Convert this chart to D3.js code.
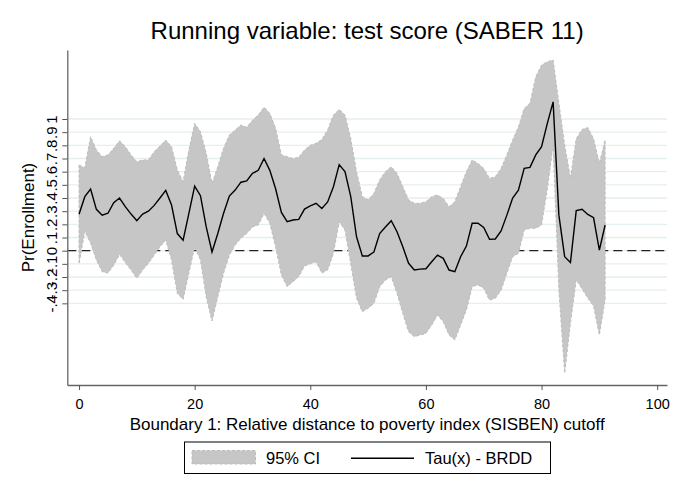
<!DOCTYPE html>
<html>
<head>
  <meta charset="utf-8">
  <style>
    body { margin: 0; background: #fff; }
    svg { display: block; font-family: "Liberation Sans", Arial, Helvetica, sans-serif; }
  </style>
</head>
<body>
<script src="https://d3js.org/d3.v7.min.js"></script>
<script>

// distance to cutoff (one point per unit)
var xs = d3.range(0, 92);

// Tau(x) - BRDD
var tau = [0.276, 0.41, 0.468, 0.314, 0.27, 0.284, 0.365, 0.40, 0.334, 0.278,
           0.228, 0.278, 0.30, 0.344, 0.40, 0.458, 0.347, 0.13, 0.08, 0.284,
           0.49, 0.418, 0.18, -0.01, 0.13, 0.284, 0.415, 0.46, 0.52, 0.53,
           0.587, 0.61, 0.70, 0.61, 0.47, 0.29, 0.22, 0.233, 0.238, 0.316,
           0.34, 0.36, 0.32, 0.37, 0.486, 0.653, 0.60, 0.41, 0.106, -0.04,
           -0.04, -0.01, 0.13, 0.18, 0.228, 0.144, 0.03, -0.096, -0.147, -0.14,
           -0.137, -0.084, -0.033, -0.058, -0.147, -0.16, -0.046, 0.035, 0.208, 0.208,
           0.177, 0.086, 0.089, 0.15, 0.27, 0.40, 0.46, 0.625, 0.633, 0.727,
           0.79, 0.967, 1.13, 0.27, -0.046, -0.09, 0.304, 0.314, 0.275, 0.25,
           0.005, 0.195];

// 95% CI upper bound
var ciUpper = [0.65, 0.63, 0.866, 0.765, 0.714, 0.727, 0.777, 0.835, 0.79, 0.727,
               0.676, 0.689, 0.689, 0.752, 0.795, 0.84, 0.79, 0.613, 0.524, 0.765,
               0.967, 0.904, 0.74, 0.511, 0.638, 0.777, 0.878, 0.916, 0.954, 0.937,
               0.99, 1.03, 1.09, 1.043, 0.929, 0.727, 0.714, 0.70, 0.709, 0.765,
               0.80, 0.815, 0.845, 0.916, 1.03, 1.073, 1.03, 0.85, 0.60, 0.41,
               0.385, 0.435, 0.537, 0.60, 0.638, 0.587, 0.486, 0.385, 0.36, 0.36,
               0.372, 0.41, 0.423, 0.397, 0.334, 0.372, 0.486, 0.60, 0.689, 0.663,
               0.625, 0.549, 0.562, 0.625, 0.727, 0.84, 0.94, 1.08, 1.12, 1.32,
               1.41, 1.435, 1.448, 1.12, 0.80, 0.55, 0.85, 0.92, 0.935, 0.85,
               0.663, 0.84];

// 95% CI lower bound
var ciLower = [-0.1, 0.15, 0.056, -0.07, -0.16, -0.17, -0.11, -0.028, -0.09, -0.147,
               -0.21, -0.147, -0.096, -0.033, 0.03, 0.08, -0.07, -0.324, -0.37, -0.17,
               0.03, -0.07, -0.35, -0.534, -0.35, -0.17, -0.033, 0.043, 0.094, 0.13,
               0.18, 0.195, 0.284, 0.208, 0.03, -0.185, -0.273, -0.235, -0.197, -0.116,
               -0.10, -0.084, -0.17, -0.147, -0.02, 0.22, 0.157, -0.1, -0.36, -0.463,
               -0.438, -0.40, -0.273, -0.223, -0.197, -0.324, -0.476, -0.615, -0.653, -0.64,
               -0.628, -0.565, -0.489, -0.539, -0.64, -0.678, -0.565, -0.45, -0.273, -0.26,
               -0.286, -0.375, -0.362, -0.30, -0.17, -0.046, -0.02, 0.157, 0.17, 0.17,
               0.195, 0.47, 0.80, -0.3, -0.93, -0.55, -0.22, -0.29, -0.36, -0.42,
               -0.64, -0.37];

var xTicks = [0, 20, 40, 60, 80, 100];
var yTicks = [-0.4, -0.3, -0.2, -0.1, 0, 0.1, 0.2, 0.3, 0.4, 0.5, 0.6, 0.7, 0.8, 0.9, 1];
var yTickLabels = ["-.4", "-.3", "-.2", "-.1", "0", ".1", ".2", ".3", ".4", ".5", ".6", ".7", ".8", ".9", "1"];

var width = 685, height = 498;
var plotL = 67.3, plotR = 667, plotT = 50, plotB = 385;

var data = xs.map(function(d, i) {
  return {x: d, tau: tau[i], lo: ciLower[i], hi: ciUpper[i]};
});

var svg = d3.select("body").append("svg")
    .attr("width", width)
    .attr("height", height);

var x = d3.scaleLinear().domain([-2.03, 101.7]).range([plotL, plotR]);
var y = d3.scaleLinear().domain([-1.02, 1.524]).range([plotB, plotT]);

// gridlines
svg.append("g").selectAll("line")
  .data(yTicks)
  .enter().append("line")
    .attr("x1", plotL).attr("x2", plotR)
    .attr("y1", function(d) { return y(d); })
    .attr("y2", function(d) { return y(d); })
    .attr("stroke", "#e5eef0")
    .attr("stroke-width", 1.3);

// zero reference line (sits under the band)
svg.append("line")
    .attr("x1", plotL).attr("x2", plotR)
    .attr("y1", y(0)).attr("y2", y(0))
    .attr("stroke", "#222")
    .attr("stroke-width", 1.3)
    .attr("stroke-dasharray", "9,5");

var area = d3.area()
    .x(function(d) { return x(d.x); })
    .y0(function(d) { return y(d.lo); })
    .y1(function(d) { return y(d.hi); });

svg.append("path")
    .attr("d", area(data))
    .attr("fill", "#c6c6c6")
    .attr("stroke", "#bcbcbc")
    .attr("stroke-width", 1)
    .attr("stroke-dasharray", "3,2");

var line = d3.line()
    .x(function(d) { return x(d.x); })
    .y(function(d) { return y(d.tau); });

svg.append("path")
    .attr("d", line(data))
    .attr("fill", "none")
    .attr("stroke", "#000")
    .attr("stroke-width", 1.4);

// x axis
var xAxis = svg.append("g")
    .attr("transform", "translate(0," + plotB + ")")
    .call(d3.axisBottom(x).tickValues(xTicks).tickSize(5).tickPadding(9).tickSizeOuter(0));
xAxis.select(".domain").attr("stroke", "#666").attr("stroke-width", 1.3);
xAxis.selectAll(".tick line").attr("stroke", "#555");
xAxis.selectAll(".tick text")
    .attr("font-size", 14.5)
    .attr("font-family", "Liberation Sans, Arial, sans-serif")
    .attr("fill", "#000");

// y axis
var yAxis = svg.append("g")
    .attr("transform", "translate(" + plotL + ",0)")
    .call(d3.axisLeft(y).tickValues(yTicks)
      .tickFormat(function(d, i) { return yTickLabels[i]; })
      .tickSize(5).tickSizeOuter(0));
yAxis.select(".domain").attr("stroke", "#666").attr("stroke-width", 1.3);
yAxis.selectAll(".tick line").attr("stroke", "#555");
yAxis.selectAll(".tick text")
    .attr("font-size", 15)
    .attr("font-family", "Liberation Sans, Arial, sans-serif")
    .attr("fill", "#000")
    .attr("x", 0).attr("dy", 0)
    .attr("text-anchor", "middle")
    .attr("transform", "translate(-10,0) rotate(-90)");

// title and axis titles
svg.append("text")
    .attr("x", (plotL + plotR) / 2).attr("y", 39)
    .attr("text-anchor", "middle")
    .attr("font-size", 24)
    .text("Running variable: test score (SABER 11)");

svg.append("text")
    .attr("x", (plotL + plotR) / 2).attr("y", 430)
    .attr("text-anchor", "middle")
    .attr("font-size", 17)
    .text("Boundary 1: Relative distance to poverty index (SISBEN) cutoff");

svg.append("text")
    .attr("transform", "translate(34," + (plotT + plotB) / 2 + ") rotate(-90)")
    .attr("text-anchor", "middle")
    .attr("font-size", 17)
    .text("Pr(Enrollment)");

// legend
var lg = svg.append("g");
lg.append("rect")
    .attr("x", 184.5).attr("y", 442)
    .attr("width", 366).attr("height", 31.5)
    .attr("fill", "#fff")
    .attr("stroke", "#000")
    .attr("stroke-width", 1);
lg.append("rect")
    .attr("x", 192).attr("y", 450.5)
    .attr("width", 63.5).attr("height", 13.5)
    .attr("fill", "#c6c6c6")
    .attr("stroke", "#bcbcbc")
    .attr("stroke-dasharray", "3,2");
lg.append("text")
    .attr("x", 266).attr("y", 464)
    .attr("font-size", 16.5)
    .text("95% CI");
lg.append("line")
    .attr("x1", 351).attr("x2", 414)
    .attr("y1", 458.3).attr("y2", 458.3)
    .attr("stroke", "#000")
    .attr("stroke-width", 1.4);
lg.append("text")
    .attr("x", 425).attr("y", 464)
    .attr("font-size", 16.5)
    .text("Tau(x) - BRDD");

</script>
</body>
</html>
